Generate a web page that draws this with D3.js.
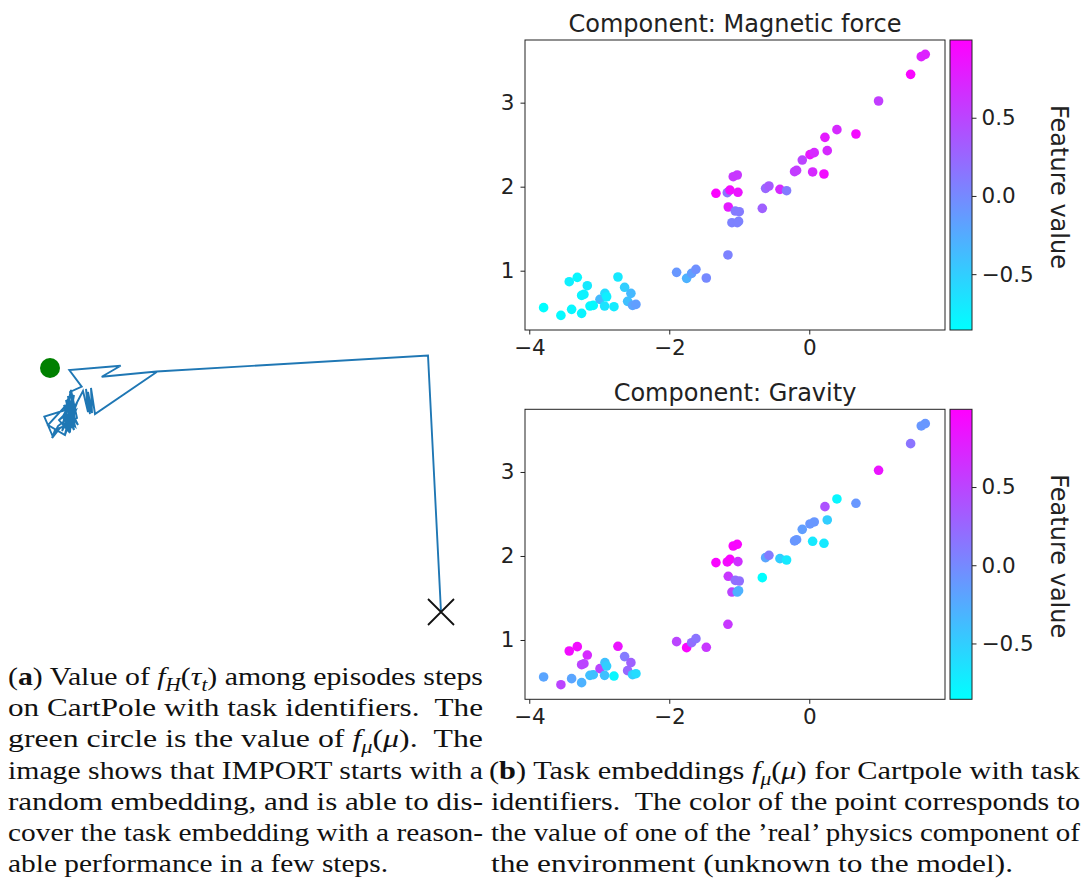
<!DOCTYPE html>
<html><head><meta charset="utf-8">
<script src="https://cdn.jsdelivr.net/npm/d3@7"></script>
<style>body{margin:0;background:#fff} svg{display:block}</style>
</head><body><svg id="fig" width="1083" height="882"></svg>
<script>
// ---- Data: task embeddings f_mu(mu) (shared by both panels) ----
const embX = [-3.795,-3.548,-3.395,-3.252,-3.429,-3.314,-3.171,-3.252,-3.219,-3.133,-3.086,-2.990,-2.919,-2.895,-2.924,-2.790,-2.733,-2.638,-2.548,-2.595,-2.524,-2.476,-1.895,-1.752,-1.681,-1.619,-1.471,-1.162,-1.333,-1.171,-1.133,-1.019,-1.086,-1.029,-1.157,-1.057,-1.000,-1.105,-1.029,-1.010,-0.671,-0.624,-0.576,-0.419,-0.324,-0.210,-0.181,-0.100,0.010,0.071,0.048,0.210,0.257,0.224,0.395,0.667,0.990,1.448,1.600,1.657];
const embY = [0.560,0.468,0.540,0.492,0.869,0.921,0.821,0.706,0.718,0.579,0.587,0.659,0.730,0.690,0.579,0.571,0.925,0.802,0.730,0.635,0.587,0.599,0.980,0.909,0.968,1.016,0.913,1.187,1.921,1.929,1.960,1.933,2.119,2.139,1.758,1.710,1.702,1.571,1.571,1.587,1.742,1.980,2.008,1.968,1.952,2.179,2.194,2.317,2.381,2.405,2.175,2.151,2.429,2.587,2.679,2.627,3.020,3.337,3.548,3.575];
const magneticValues = [-0.85,-0.82,-0.8,-0.78,-0.75,-0.8,-0.7,-0.78,-0.76,-0.8,-0.82,-0.35,-0.6,-0.75,-0.65,-0.72,-0.7,-0.5,-0.35,-0.4,-0.2,-0.15,-0.1,-0.3,-0.15,-0.05,0.0,0.05,0.97,0.15,0.9,0.85,0.6,0.6,0.8,0.1,0.1,0.05,0.05,0.05,0.3,0.25,0.35,0.7,0.1,0.55,0.55,0.5,0.85,0.7,0.7,0.9,0.7,0.8,0.7,0.92,0.55,0.95,0.75,0.75];
const gravityValues = [-0.2,0.5,-0.2,-0.3,0.9,0.9,0.7,0.5,0.5,-0.4,-0.4,0.5,-0.4,-0.5,-0.4,-0.8,0.85,0.1,0.3,0.25,-0.5,-0.6,0.5,0.95,0.2,0.15,0.6,0.6,0.95,0.9,0.95,0.65,0.95,0.95,0.6,0.2,0.2,0.5,-0.3,-0.3,-0.85,-0.2,0.1,-0.5,-0.7,-0.1,-0.1,-0.15,-0.1,-0.1,-0.7,-0.7,-0.5,0.4,-0.8,-0.1,0.85,0.15,-0.1,-0.1];
const xTicks = [-4, -2, 0];
const yTicks = [1, 2, 3];
const cbTicks = [-0.5, 0.0, 0.5];
const cbDomain = [-0.857, 0.997];

// ---- Data: trajectory of f_H(tau_t) (panel a), relative to f_mu(mu) ----
const trajX = [3.91,3.78,1.067,0.517,0.707,0.193,0.317,0.20,0.25,0.18,0.22,0.16,0.28,0.14,0.20,0.23,0.12,0.26,0.18,0.24,0.17,0.27,0.15,0.22,-0.057,0.03,0.10,0.17,0.05,0.02,0.08,0.22,0.15,-0.02,0.19,0.24,0.16,0.21,0.27,0.13,0.18,0.25,0.14,0.20,0.09,0.23,0.12,0.33,0.38,0.36,0.40,0.38,0.42,0.41,0.45,1.067];
const trajY = [-2.44,0.125,-0.035,-0.087,0.023,-0.02,-0.187,-0.24,-0.52,-0.28,-0.60,-0.32,-0.57,-0.37,-0.64,-0.30,-0.50,-0.42,-0.62,-0.27,-0.55,-0.35,-0.66,-0.40,-0.487,-0.69,-0.60,-0.57,-0.62,-0.70,-0.58,-0.47,-0.67,-0.57,-0.34,-0.62,-0.44,-0.22,-0.50,-0.56,-0.31,-0.58,-0.47,-0.65,-0.52,-0.38,-0.63,-0.23,-0.44,-0.21,-0.46,-0.24,-0.45,-0.20,-0.46,-0.04];
const targetEmb = [0, 0];

const svg = d3.select("#fig");
const SANS = "DejaVu Sans";

// ---------- panel (a) ----------
const tx = d3.scaleLinear().domain([0, 1]).range([50, 150]);
const ty = d3.scaleLinear().domain([0, 1]).range([368, 268]);
const traj = trajX.map((v, i) => [v, trajY[i]]);
svg.append("path")
  .attr("d", d3.line().x(d => tx(d[0])).y(d => ty(d[1]))(traj))
  .attr("fill", "none").attr("stroke", "#1f77b4").attr("stroke-width", 1.9)
  .attr("stroke-linejoin", "miter");
svg.append("circle").attr("cx", tx(targetEmb[0])).attr("cy", ty(targetEmb[1]))
  .attr("r", 10).attr("fill", "#008000");
const last = traj[0];
svg.append("path")
  .attr("transform", `translate(${tx(last[0])},${ty(last[1])})`)
  .attr("d", "M-13,-13L13,13M-13,13L13,-13")
  .attr("stroke", "#111").attr("stroke-width", 1.8).attr("fill", "none");

// ---------- panel (b) ----------
const color = v => d3.interpolateRgb("#00ffff", "#ff00ff")((v - cbDomain[0]) / (cbDomain[1] - cbDomain[0]));
const defs = svg.append("defs");
const grad = defs.append("linearGradient").attr("id", "cool").attr("x1", 0).attr("y1", 1).attr("x2", 0).attr("y2", 0);
grad.append("stop").attr("offset", 0).attr("stop-color", "#00ffff");
grad.append("stop").attr("offset", 1).attr("stop-color", "#ff00ff");

const panels = [
  {title: "Component: Magnetic force", values: magneticValues, top: 40, bottom: 330},
  {title: "Component: Gravity", values: gravityValues, top: 409.3, bottom: 699.3}
];
const x = d3.scaleLinear().domain([-4.061, 1.939]).range([525, 945]);

panels.forEach(p => {
  const y = d3.scaleLinear().domain([0.294, 3.746]).range([p.bottom, p.top]);
  const g = svg.append("g");
  g.selectAll("circle.pt").data(embX.map((v, i) => i)).join("circle")
    .attr("cx", i => x(embX[i])).attr("cy", i => y(embY[i])).attr("r", 4.8)
    .attr("fill", i => color(p.values[i]));
  g.append("rect").attr("x", 525).attr("y", p.top).attr("width", 420).attr("height", p.bottom - p.top)
    .attr("fill", "none").attr("stroke", "#222").attr("stroke-width", 1);
  const xa = g.append("g").attr("transform", `translate(0,${p.bottom})`)
    .call(d3.axisBottom(x).tickValues(xTicks).tickSize(4.5).tickPadding(5).tickFormat(d => d3.format("d")(d).replace("-", "−")));
  const ya = g.append("g").attr("transform", "translate(525,0)")
    .call(d3.axisLeft(y).tickValues(yTicks).tickSize(4.5).tickPadding(6).tickFormat(d3.format("d")));
  [xa, ya].forEach(a => {
    a.select(".domain").remove();
    a.selectAll("line").attr("stroke", "#222");
    a.selectAll("text").attr("font-family", SANS).attr("font-size", 21.5).attr("fill", "#222");
  });
  g.append("text").attr("x", 735).attr("y", p.top - 8).attr("text-anchor", "middle")
    .attr("font-family", SANS).attr("font-size", 24).attr("fill", "#222").text(p.title);

  // colorbar
  const cb = d3.scaleLinear().domain(cbDomain).range([p.bottom, p.top]);
  g.append("rect").attr("x", 950).attr("y", p.top).attr("width", 22).attr("height", p.bottom - p.top)
    .attr("fill", "url(#cool)").attr("stroke", "#222").attr("stroke-width", 1);
  const ca = g.append("g").attr("transform", "translate(972,0)")
    .call(d3.axisRight(cb).tickValues(cbTicks).tickSize(4.5).tickPadding(5).tickFormat(d => d3.format(".1f")(d).replace("-", "−")));
  ca.select(".domain").remove();
  ca.selectAll("line").attr("stroke", "#222");
  ca.selectAll("text").attr("font-family", SANS).attr("font-size", 21.5).attr("fill", "#222");
  g.append("text").attr("transform", `translate(1059,${(p.top + p.bottom) / 2 + 2}) rotate(90)`)
    .attr("text-anchor", "middle").attr("dominant-baseline", "central")
    .attr("font-family", SANS).attr("font-size", 24).attr("fill", "#222").text("Feature value");
});

// ---------- captions ----------
function caption(x0, y0, width, segs) {
  const t = svg.append("text").attr("x", x0).attr("y", y0)
    .attr("font-family", "Liberation Serif").attr("font-size", 25.5).attr("fill", "#111")
    .style("white-space", "pre");
  if (width) t.attr("textLength", width).attr("lengthAdjust", "spacingAndGlyphs");
  let shift = 0;
  segs.forEach(s => {
    const st = s[1] || "";
    const sp = t.append("tspan").text(s[0]);
    if (st.includes("i")) sp.attr("font-style", "italic");
    if (st.includes("b")) sp.attr("font-weight", "bold");
    const target = st.includes("s") ? 6 : 0;
    if (target !== shift) { sp.attr("dy", target - shift); shift = target; }
    if (st.includes("s")) sp.attr("font-size", 18);
  });
}
const L = [685, 716, 747, 779, 810, 841, 872];
caption(8, L[0], 475, [["("], ["a", "b"], [") Value of "], ["f", "i"], ["H", "is"], ["("], ["τ", "i"], ["t", "is"], [")"], [" among episodes steps"]]);
caption(8, L[1], 475, [["on CartPole with task identifiers.  The"]]);
caption(8, L[2], 475, [["green circle is the value of "], ["f", "i"], ["μ", "is"], ["("], ["μ", "i"], [").  The"]]);
caption(8, L[3], 475, [["image shows that IMPORT starts with a"]]);
caption(8, L[4], 475, [["random embedding, and is able to dis-"]]);
caption(8, L[5], 475, [["cover the task embedding with a reason-"]]);
caption(8, L[6], 380, [["able performance in a few steps."]]);
caption(489, L[3], 591, [["("], ["b", "b"], [") Task embeddings "], ["f", "i"], ["μ", "is"], ["("], ["μ", "i"], [")"], [" for Cartpole with task"]]);
caption(491, L[4], 589, [["identifiers.  The color of the point corresponds to"]]);
caption(491, L[5], 589, [["the value of one of the ’real’ physics component of"]]);
caption(491, L[6], 522, [["the environment (unknown to the model)."]]);
</script>
</body></html>
